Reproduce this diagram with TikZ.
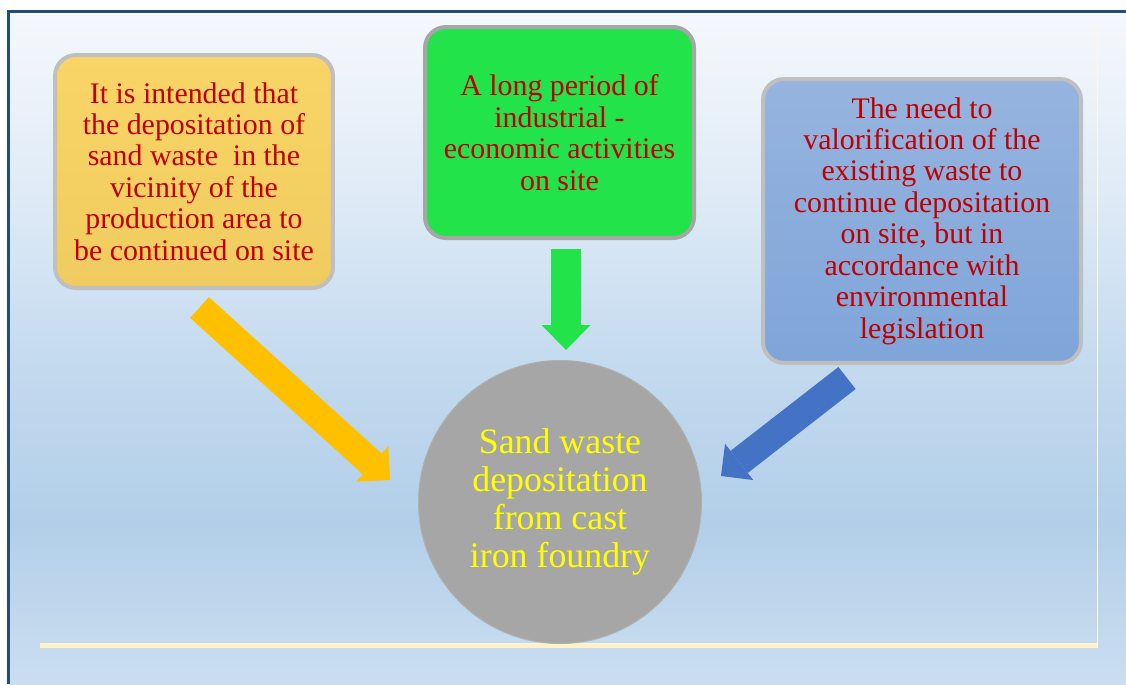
\documentclass[tikz,border=0pt]{standalone}
\usepackage{fontspec}
\setmainfont{Liberation Serif}
\usetikzlibrary{arrows.meta}
\usetikzlibrary{positioning}

\definecolor{framecol}{RGB}{31,78,121}
\definecolor{bgtop}{RGB}{245,248,252}
\definecolor{bgupper}{RGB}{222,234,246}
\definecolor{bgmid}{RGB}{194,217,238}
\definecolor{bgdeep}{RGB}{178,207,233}
\definecolor{bgbot}{RGB}{203,222,240}
\definecolor{cream}{RGB}{255,242,204}
\definecolor{txtred}{RGB}{192,0,0}
\definecolor{txtyellow}{RGB}{255,255,0}
\definecolor{edgelight}{RGB}{191,191,191}
\definecolor{edgedark}{RGB}{166,166,166}
\definecolor{yeltop}{RGB}{249,213,103}
\definecolor{yelbot}{RGB}{240,204,96}
\definecolor{grnfill}{RGB}{34,227,74}
\definecolor{blutop}{RGB}{150,180,223}
\definecolor{blubot}{RGB}{127,165,217}
\definecolor{coregray}{RGB}{166,166,166}
\definecolor{coreedge}{RGB}{175,175,175}
\definecolor{arryellow}{RGB}{255,192,0}
\definecolor{arrblue}{RGB}{68,114,196}

\pgfdeclareverticalshading{backdrop}{100bp}{color(0bp)=(bgbot); color(25bp)=(bgbot); color(37bp)=(bgdeep); color(48bp)=(bgmid); color(61bp)=(bgupper); color(75bp)=(bgtop); color(100bp)=(bgtop)}

\tikzset{
	box/.style={rectangle, rounded corners=0.42cm, line width=2.3pt, text=txtred, align=center, font=\fontsize{17}{17.9}\selectfont},
	core/.style={circle, fill=coregray, draw=coreedge, line width=0.6pt, minimum size=5.66cm, inner sep=0pt, text=txtyellow, align=center, font=\fontsize{20.4}{21.5}\selectfont},
	flow/.style={line width=0.56cm, -{Triangle[length=0.48cm,width=0.96cm,line width=0pt]}}
}

\begin{document}
\begin{tikzpicture}[x=0.02cm, y=-0.02cm]

	\useasboundingbox (0,0) rectangle (1126,684);
	\fill[white] (0,0) rectangle (1126,684);
	\shade[shading=backdrop] (10,13) rectangle (1126,684);
	\fill[cream] (40,643) rectangle (1098,648);
	\fill[cream!60!white] (1096.5,25) rectangle (1098,648);
	\draw[framecol, line width=1.7pt] (8.5,684) |- (1126,11.5);

	\node[box, draw=edgelight, top color=yeltop, bottom color=yelbot, minimum width=5.56cm, minimum height=4.66cm] (intent) at (194,171.5) {It is intended that\\the depositation of\\sand waste~ in the\\vicinity of the\\production area to\\be continued on site};
	\node[box, draw=edgedark, fill=grnfill, minimum width=5.38cm, minimum height=4.22cm] (period) at (559.5,132.5) {A long period of\\industrial -\\economic activities\\on site};
	\node[box, draw=edgelight, top color=blutop, bottom color=blubot, minimum width=6.36cm, minimum height=5.68cm] (valor) at (922,221) {The need to\\valorification of the\\existing waste to\\continue depositation\\on site, but in\\accordance with\\environmental\\legislation};
	\node[core] (deposit) at (560,502) {Sand waste\\depositation\\from cast\\iron foundry};

	\coordinate (intent tail) at (199.5,307.5);
	\coordinate (intent tip) at (390,480);
	\coordinate (period tail) at (566,249);
	\coordinate (period tip) at (566,350);
	\coordinate (valor tail) at (847,378);
	\coordinate (valor tip) at (721,476);

	\draw[flow, arryellow] (intent tail) -- (intent tip);
	\draw[flow, grnfill, line width=0.6cm, -{Triangle[length=0.5cm,width=0.98cm,line width=0pt]}] (period tail) -- (period tip);
	\draw[flow, arrblue, -{Triangle[length=0.46cm,width=0.92cm,line width=0pt]}] (valor tail) -- (valor tip);
\end{tikzpicture}
\end{document}
